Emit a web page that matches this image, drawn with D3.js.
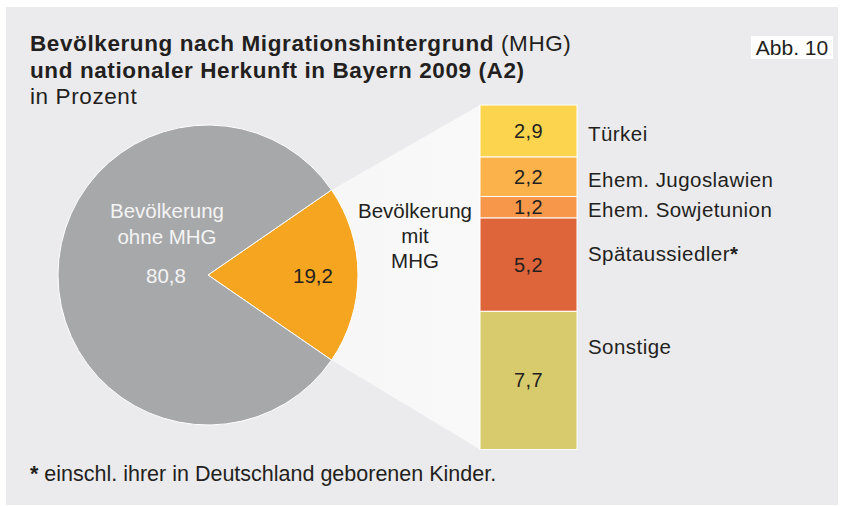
<!DOCTYPE html>
<html>
<head>
<meta charset="utf-8">
<script src="https://cdn.jsdelivr.net/npm/d3@7"></script>
<style>
  html, body { margin: 0; padding: 0; background: #ffffff; }
  svg { display: block; }
  text { font-family: "Liberation Sans", Arial, Helvetica, sans-serif; }
</style>
</head>
<body>
<svg id="chart" width="850" height="506"></svg>
<script>
// ---- data ----
const titleBold1 = "Bevölkerung nach Migrationshintergrund";
const titleNormal1 = " (MHG)";
const titleBold2 = "und nationaler Herkunft in Bayern 2009 (A2)";
const subtitle = "in Prozent";
const figLabel = "Abb. 10";
const footnote = "einschl. ihrer in Deutschland geborenen Kinder.";

const pieGroups = ["mit MHG", "ohne MHG"];
const pieValues = [19.2, 80.8];
const pieLabelLines = [["Bevölkerung", "mit", "MHG"], ["Bevölkerung", "ohne MHG"]];

const categories = ["Türkei", "Ehem. Jugoslawien", "Ehem. Sowjetunion", "Spätaussiedler*", "Sonstige"];
const catValues = [2.9, 2.2, 1.2, 5.2, 7.7];

// ---- styling ----
const pieColors = ["#f5a51f", "#a7a8aa"];
const barColors = ["#fdd44e", "#fbb24b", "#f6974a", "#de6539", "#d8cb6d"];
const textDark = "#231f20";
const fmt = v => String(v).replace(".", ",");

const svg = d3.select("#chart");

// panel
svg.append("rect").attr("x", 6).attr("y", 7).attr("width", 832).attr("height", 498).attr("fill", "#ebebed");

// figure label box
svg.append("rect").attr("x", 751).attr("y", 36).attr("width", 82).attr("height", 23).attr("fill", "#ffffff");
svg.append("text").attr("x", 792).attr("y", 55).attr("text-anchor", "middle")
  .attr("font-size", 21).attr("fill", textDark).text(figLabel);

// title
const titleFont = 22.5, titleSpacing = 0.6;
const t1 = svg.append("text").attr("x", 30).attr("y", 51).attr("font-size", titleFont)
  .attr("letter-spacing", titleSpacing).attr("fill", textDark);
t1.append("tspan").attr("font-weight", "bold").text(titleBold1);
t1.append("tspan").text(titleNormal1);
svg.append("text").attr("x", 30).attr("y", 77.5).attr("font-size", titleFont).attr("font-weight", "bold")
  .attr("letter-spacing", titleSpacing).attr("fill", textDark).text(titleBold2);
svg.append("text").attr("x", 30).attr("y", 104).attr("font-size", titleFont)
  .attr("letter-spacing", titleSpacing).attr("fill", textDark).text(subtitle);

// ---- pie ----
const cx = 208, cy = 275, R = 150;
const mitFrac = pieValues[0] / d3.sum(pieValues);
const startA = Math.PI / 2 - Math.PI * mitFrac;
const pie = d3.pie().sort(null).value(d => d).startAngle(startA).endAngle(startA + 2 * Math.PI);
const arcs = pie(pieValues);
const arc = d3.arc().innerRadius(0).outerRadius(R);
const pt = (a, r) => [cx + r * Math.sin(a), cy - r * Math.cos(a)];

// bar scale
const barX = 480, barW = 97, barTop = 105, barBottom = 449.5;
const total = d3.sum(catValues);
const y = d3.scaleLinear().domain([0, total]).range([barTop, barBottom]);
const cum = d3.cumsum(catValues);
const segs = catValues.map((v, i) => ({ v, i, y0: cum[i] - v, y1: cum[i] }));

// funnel (connector) polygon
const pA = pt(arcs[0].startAngle, R), pB = pt(arcs[0].endAngle, R);
const grad = svg.append("defs").append("linearGradient").attr("id", "fun")
  .attr("x1", 0).attr("x2", 1).attr("y1", 0).attr("y2", 0);
grad.append("stop").attr("offset", "0%").attr("stop-color", "#f7f7f7");
grad.append("stop").attr("offset", "100%").attr("stop-color", "#f9f9f9");
svg.append("path")
  .attr("d", d3.line()([pA, [barX, y(0)], [barX, y(total)], pB]))
  .attr("fill", "url(#fun)");

svg.append("g").attr("transform", `translate(${cx},${cy})`)
  .selectAll("path").data(arcs).join("path")
  .attr("d", arc).attr("fill", (d, i) => pieColors[i])
  .attr("stroke", "#ffffff").attr("stroke-width", 1);

// pie labels
const pieFont = 20.5;
svg.append("text").attr("x", 313).attr("y", 283).attr("text-anchor", "middle")
  .attr("font-size", 20.5).attr("fill", textDark).text(fmt(pieValues[0]));
const ohne = svg.append("text").attr("text-anchor", "middle").attr("font-size", pieFont).attr("fill", "#f4f4f4");
pieLabelLines[1].forEach((l, i) => ohne.append("tspan").attr("x", 167).attr("y", 218 + i * 25.5).text(l));
svg.append("text").attr("x", 166).attr("y", 283).attr("text-anchor", "middle")
  .attr("font-size", 20.5).attr("fill", "#f4f4f4").text(fmt(pieValues[1]));
const mit = svg.append("text").attr("text-anchor", "middle").attr("font-size", pieFont).attr("fill", textDark);
pieLabelLines[0].forEach((l, i) => mit.append("tspan").attr("x", 415).attr("y", 218 + i * 25).text(l));

// ---- stacked bar ----
svg.append("g").selectAll("rect").data(segs).join("rect")
  .attr("x", barX).attr("width", barW)
  .attr("y", d => y(d.y0)).attr("height", d => y(d.y1) - y(d.y0))
  .attr("fill", d => barColors[d.i]).attr("stroke", "#ffffff").attr("stroke-width", 1);

svg.append("g").selectAll("text").data(segs).join("text")
  .attr("x", barX + barW / 2).attr("y", d => (y(d.y0) + y(d.y1)) / 2 + 7)
  .attr("text-anchor", "middle").attr("font-size", 20).attr("letter-spacing", 0.4).attr("fill", textDark)
  .text(d => fmt(d.v));

svg.append("g").selectAll("text").data(segs).join("text")
  .attr("x", 588)
  .attr("y", d => Math.min((y(d.y0) + y(d.y1)) / 2 + 2, y(d.y0) + 35) + 8)
  .attr("font-size", 20.5).attr("letter-spacing", 0.45).attr("fill", textDark)
  .each(function (d) {
    const s = d3.select(this);
    const name = categories[d.i];
    if (name.endsWith("*")) {
      s.append("tspan").text(name.slice(0, -1));
      s.append("tspan").attr("font-weight", "bold").text("*");
    } else s.text(name);
  });

// footnote
const fn = svg.append("text").attr("x", 30).attr("y", 481).attr("font-size", 21.5).attr("fill", textDark);
fn.append("tspan").attr("font-weight", "bold").text("*");
fn.append("tspan").text(" " + footnote);
</script>
</body>
</html>
